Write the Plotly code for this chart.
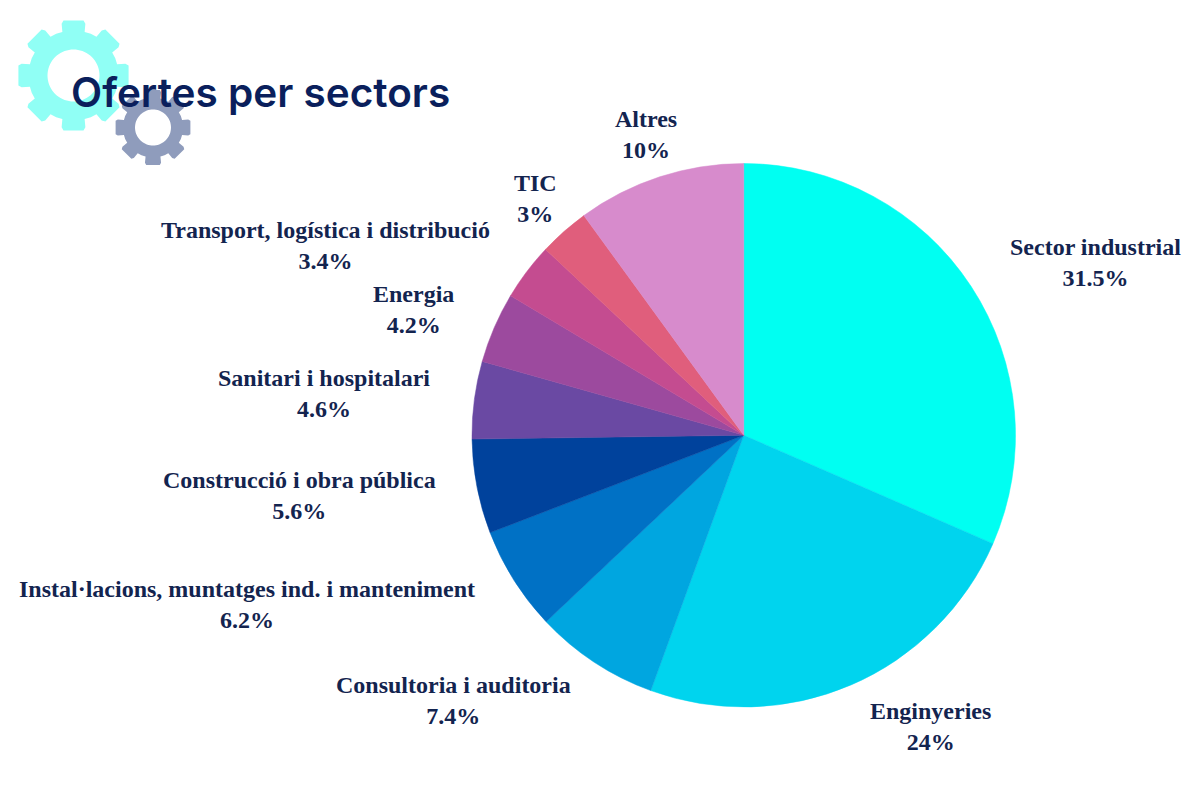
import numpy as np
import plotly.graph_objects as go

sectors = ["Sector industrial", "Enginyeries", "Consultoria i auditoria",
           "Instal·lacions, muntatges ind. i manteniment", "Construcció i obra pública",
           "Sanitari i hospitalari", "Energia", "Transport, logística i distribució", "TIC", "Altres"]
shares = [31.5, 24, 7.4, 6.2, 5.6, 4.6, 4.2, 3.4, 3, 10]
share_labels = ["31.5%", "24%", "7.4%", "6.2%", "5.6%", "4.6%", "4.2%", "3.4%", "3%", "10%"]
slice_colors = ["#00FFF2", "#00D4EE", "#00A6E0", "#0071C5", "#00429C",
                "#6A49A3", "#9C4A9E", "#C44C90", "#E05E7C", "#D78BCC"]
title = "Ofertes per sectors"

W, H = 1200, 800
# label centres in page pixels
label_xy = [(1095, 262), (930, 726), (453, 700), (247, 604), (299, 495),
            (324, 394), (414, 310), (325, 245), (535, 198), (646, 134)]


def px(x, y):
    return x / W, 1 - y / H


def gear_path(cx, cy, r_out, r_root, r_hole, teeth=8):
    pts = []
    step = 2 * np.pi / teeth
    for i in range(teeth):
        a = i * step
        for dt, r in [(-0.25, r_root), (-0.225, r_out * 0.95), (-0.18, r_out),
                      (0.18, r_out), (0.225, r_out * 0.95), (0.25, r_root),
                      (step / 2, r_root * 1.005)]:
            t = a + dt
            pts.append((cx + r * np.sin(t), cy - r * np.cos(t)))
    d = []
    for j, (x, y) in enumerate(pts):
        u, v = px(x, y)
        d.append(("M" if j == 0 else "L") + f"{u:.5f},{v:.5f}")
    d.append("Z")
    for j, t in enumerate(np.linspace(0, -2 * np.pi, 73)[:-1]):
        u, v = px(cx + r_hole * np.sin(t), cy - r_hole * np.cos(t))
        d.append(("M" if j == 0 else "L") + f"{u:.5f},{v:.5f}")
    d.append("Z")
    return " ".join(d)


fig = go.Figure(go.Pie(
    labels=sectors, values=shares, sort=False, direction="clockwise", rotation=0,
    marker=dict(colors=slice_colors, line=dict(width=0.5, color=slice_colors)),
    textinfo="none", showlegend=False,
    domain=dict(x=[472 / W, 1015.5 / W], y=[1 - 707 / H, 1 - 163.5 / H]),
))

fig.update_layout(
    width=W, height=H, margin=dict(l=0, r=0, t=0, b=0),
    paper_bgcolor="white", plot_bgcolor="white", showlegend=False,
    shapes=[
        dict(type="path", xref="paper", yref="paper", layer="below",
             path=gear_path(73.5, 75.5, 56, 45, 26), fillcolor="#90FFF5", line=dict(width=0)),
        dict(type="path", xref="paper", yref="paper", layer="below",
             path=gear_path(153, 127.5, 38, 30, 18), fillcolor="#8F9CBC", line=dict(width=0)),
    ],
)

for name, share, (lx, ly) in zip(sectors, share_labels, label_xy):
    u, v = px(lx, ly)
    fig.add_annotation(x=u, y=v, xref="paper", yref="paper", showarrow=False,
                       xanchor="center", yanchor="middle",
                       text=f"{name}<br>{share}", align="center",
                       font=dict(family="Liberation Serif", size=24, color="#13244F", weight="bold"))

u, v = px(68.5, 92)
fig.add_annotation(x=u, y=v, xref="paper", yref="paper", showarrow=False,
                   xanchor="left", yanchor="middle",
                   text=title, font=dict(family="Inter", size=40.5, color="#0A1F5C", weight=600))

fig.write_html("out.html", post_script="document.body.style.margin='0';",
               config=dict(displayModeBar=False))
